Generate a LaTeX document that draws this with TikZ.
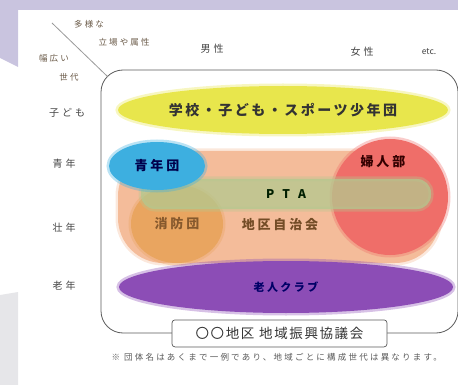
\documentclass[tikz,border=0pt]{standalone}
\usepackage{fontspec}
\setmainfont{Noto Sans CJK JP}
\newfontfamily\jpwide[LetterSpace=22]{Noto Sans CJK JP}
\usetikzlibrary{shapes.geometric}

\definecolor{lavender}{HTML}{C9C4DF}
\definecolor{panelgray}{HTML}{E6E6E9}
\definecolor{frameline}{HTML}{5A5A5A}
\definecolor{labelgray}{HTML}{444444}
\definecolor{diagbrown}{HTML}{6A5A48}
\definecolor{schoolyellow}{HTML}{E8E64C}
\definecolor{jichisalmon}{HTML}{F4BC9A}
\definecolor{shoboorange}{HTML}{E9A560}
\definecolor{fujinred}{HTML}{EF6E69}
\definecolor{ptagreen}{HTML}{B3C98F}
\definecolor{seinenblue}{HTML}{3DAFE0}
\definecolor{rojinpurple}{HTML}{8C4DB6}

\begin{document}
\begin{tikzpicture}[x=1pt, y=-1pt,
	soft/.style={preaction={draw=#1, line width=5pt, draw opacity=0.35}, fill=#1},
	group/.style={inner sep=0pt, font=\jpwide\bfseries\fontsize{13}{13}\selectfont},
	agelabel/.style={text=labelgray, font=\addfontfeature{LetterSpace=30}\fontsize{10}{10}\selectfont},
	diaglabel/.style={text=diagbrown, font=\addfontfeature{LetterSpace=25}\fontsize{8.5}{8.5}\selectfont}]
	\useasboundingbox (0, 0) rectangle (458, 385);
	\clip (0, 0) rectangle (458, 385);
	\fill [lavender] (0, 0) -- (458, 0) -- (458, 10) -- (18, 10) -- (18, 67) -- (0, 58) -- cycle;
	\fill [panelgray] (0, 295) -- (18, 292) -- (18, 385) -- (0, 385) -- cycle;

	\node (frame) at (279.5, 201.5) [draw=frameline, line width=0.8pt, rounded corners=22pt, minimum width=357pt, minimum height=263pt] {};
	\coordinate (diagtop) at (52, 23);
	\coordinate (diagend) at (107.5, 76.5);
	\draw [gray!80, line width=0.8pt] (diagtop) -- (diagend);

	\node (tayo) at (89, 24) [diaglabel] {多様な};
	\node (tachiba) at (124, 42) [diaglabel] {立場や属性};
	\node (habahiroi) at (54, 58) [diaglabel] {幅広い};
	\node (sedai) at (69, 77) [diaglabel] {世代};
	\node (dansei) at (212, 49) [agelabel] {男性};
	\node (josei) at (362, 52) [agelabel] {女性};
	\node (etc) at (429, 52) [agelabel, font=\fontsize{8.5}{8.5}\selectfont] {etc.};
	\node (kodomo) at (67, 113) [agelabel] {子ども};
	\node (seinen) at (64, 164) [agelabel] {青年};
	\node (sonen) at (64, 228) [agelabel] {壮年};
	\node (ronen) at (64, 286) [agelabel] {老年};

	\node (jichi) at (279, 207) [group, soft=jichisalmon, rounded corners=45pt, minimum width=322pt, minimum height=112pt] {};
	\node (shobo) at (177, 224) [group, ellipse, soft=shoboorange, minimum width=92pt, minimum height=78pt, text=brown!70!black] {消防団};
	\node (fujin) at (390, 197) [group, circle, soft=fujinred, minimum size=116pt] {};
	\node (pta) at (286, 194) [group, soft=ptagreen, fill opacity=0.75, text opacity=1, rounded corners=14pt, minimum width=290pt, minimum height=30pt, text=black!70!green!40!black, font=\bfseries\fontsize{12}{12}\selectfont] {P\hspace{8pt}T\hspace{8pt}A};
	\node (seinendan) at (157, 166) [group, ellipse, soft=seinenblue, minimum width=96pt, minimum height=48pt, text=blue!30!black] {青年団};
	\node (gakko) at (283, 110) [group, ellipse, soft=schoolyellow, minimum width=330pt, minimum height=48pt, text=black!80, font=\addfontfeature{LetterSpace=18}\bfseries\fontsize{14}{14}\selectfont] {学校・子ども・スポーツ少年団};
	\node (rojin) at (286, 287) [group, ellipse, soft=rojinpurple, minimum width=334pt, minimum height=52pt, text=blue!40!black, font=\jpwide\bfseries\fontsize{11}{11}\selectfont] {老人クラブ};
	\node (fujinbu) at (383, 162) [group, text=black!80!red] {婦人部};
	\node (chiku) at (280, 225) [group, text=brown!60!black] {地区自治会};

	\node (council) at (frame.south) [draw=frameline, fill=white, line width=0.7pt, rounded corners=3pt, minimum width=215pt, minimum height=27pt, text=black!80, font=\addfontfeature{LetterSpace=12}\fontsize{13.5}{13.5}\selectfont] {〇〇地区 地域振興協議会};
	\node (note) at (108, 357) [anchor=west, text=black!65, font=\addfontfeature{LetterSpace=26}\fontsize{8.5}{8.5}\selectfont] {※ 団体名はあくまで一例であり、地域ごとに構成世代は異なります。};
\end{tikzpicture}
\end{document}
